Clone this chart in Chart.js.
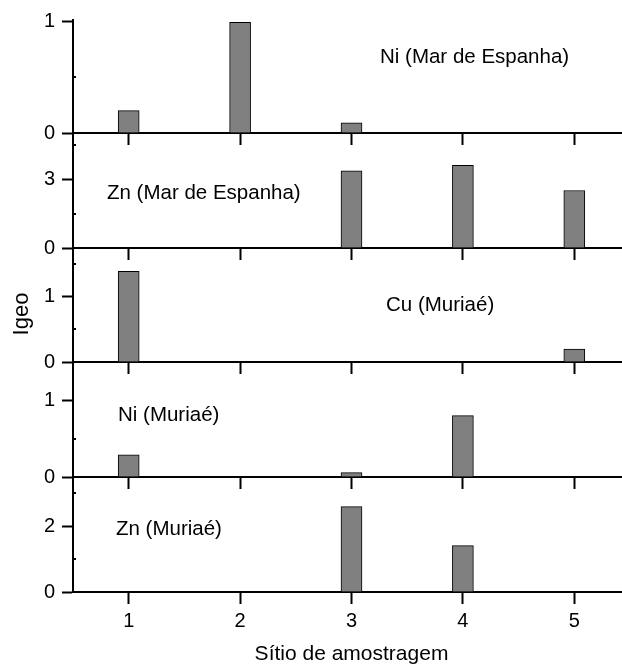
<!DOCTYPE html>
<html>
<head>
<meta charset="utf-8">
<script src="https://cdn.jsdelivr.net/npm/chart.js@4.4.1/dist/chart.umd.min.js"></script>
<style>
  body { margin: 0; background: #fff; overflow: hidden; }
  #fig { position: relative; width: 622px; height: 671px; overflow: hidden; }
  #fig canvas { position: absolute; left: 0; }
</style>
</head>
<body>
<div id="fig"></div>
<script>
// Dados (Igeo por sítio)
const sitios = ["1", "2", "3", "4", "5"];
const rotulos = ["Ni (Mar de Espanha)", "Zn (Mar de Espanha)", "Cu (Muriaé)", "Ni (Muriaé)", "Zn (Muriaé)"];
const niMar = [0.2, 0.99, 0.09, null, null];
const znMar = [null, null, 3.35, 3.59, 2.5];
const cuMuriae = [1.39, null, null, null, 0.2];
const niMuriae = [0.29, null, 0.058, 0.8, null];
const znMuriae = [null, null, 2.6, 1.41, null];
const yMax = [1.01, 5, 1.75, 1.5, 3.5];
const ticksMaiores = [[0, 1], [0, 3], [0, 1], [0, 1], [0, 2]];
const ticksMenores = [[0.5], [1.5, 4.5], [0.5, 1.5], [0.5], [1, 3]];

const series = [niMar, znMar, cuMuriae, niMuriae, znMuriae];

// layout dos painéis (px na página)
const topos = [20, 133, 248, 362, 477];
const zeros = [133, 248, 362, 477, 592];
const posRotulos = [[380, 57], [107, 193], [386, 305], [118, 415], [116, 529]];
const padTop = 24;
const fonte = '"Liberation Sans", Arial, sans-serif';

// ticks menores, rótulo do painel e título do eixo y
const extras = {
    id: "extras",
    afterDraw(chart) {
        const o = chart.options.plugins.extras;
        const ctx = chart.ctx;
        const area = chart.chartArea;
        const y = chart.scales.y;
        ctx.save();
        ctx.strokeStyle = "#000";
        ctx.lineWidth = 2;
        o.menores.forEach(v => {
            const py = Math.round(y.getPixelForValue(v));
            ctx.beginPath();
            ctx.moveTo(area.left, py);
            ctx.lineTo(area.left + 3, py);
            ctx.stroke();
        });
        ctx.fillStyle = "#000";
        ctx.font = "20.5px " + fonte;
        ctx.textBaseline = "middle";
        ctx.textAlign = "left";
        ctx.fillText(o.texto, o.x, o.y);
        if (o.tituloY) {
            ctx.translate(22, o.tituloY);
            ctx.rotate(-Math.PI / 2);
            ctx.textAlign = "center";
            ctx.font = "22px " + fonte;
            ctx.fillText("Igeo", 0, 0);
        }
        ctx.restore();
    }
};

const fig = document.getElementById("fig");

series.forEach((dados, i) => {
    const ultimo = i === series.length - 1;
    const xH = ultimo ? 79 : 24;
    const topoCanvas = topos[i] - padTop;
    const altura = padTop + (zeros[i] - topos[i]) + xH;

    const cv = document.createElement("canvas");
    cv.width = 630;
    cv.height = altura;
    cv.style.top = topoCanvas + "px";
    cv.style.width = "630px";
    cv.style.height = altura + "px";
    fig.appendChild(cv);

    new Chart(cv, {
        type: "bar",
        data: {
            labels: sitios,
            datasets: [{
                label: rotulos[i],
                data: dados,
                backgroundColor: "#808080",
                borderColor: "#000",
                borderWidth: 1,
                barThickness: 21
            }]
        },
        options: {
            responsive: false,
            animation: false,
            layout: { autoPadding: false, padding: { top: padTop, left: 0, right: 0, bottom: 0 } },
            plugins: {
                legend: { display: false },
                tooltip: { enabled: false },
                extras: {
                    menores: ticksMenores[i],
                    texto: rotulos[i],
                    x: posRotulos[i][0],
                    y: posRotulos[i][1] - topoCanvas,
                    tituloY: i === 2 ? 314 - topoCanvas : null
                }
            },
            scales: {
                x: {
                    type: "category",
                    offset: true,
                    grid: { offset: false, drawOnChartArea: false, tickLength: 12, tickWidth: 2, tickColor: "#000" },
                    border: { color: "#000", width: 2 },
                    ticks: { display: ultimo, color: "#000", font: { size: 20, family: fonte }, padding: 5 },
                    title: {
                        display: ultimo,
                        text: "Sítio de amostragem",
                        color: "#000",
                        font: { size: 21, family: fonte },
                        padding: { top: 0, bottom: 4 }
                    },
                    afterFit: s => { s.height = xH; }
                },
                y: {
                    min: 0,
                    max: yMax[i],
                    grid: { drawOnChartArea: false, tickLength: 11, tickWidth: 2, tickColor: "#000" },
                    border: { color: "#000", width: 2 },
                    ticks: { color: "#000", font: { size: 20, family: fonte }, padding: 7, callback: v => String(v) },
                    afterBuildTicks: s => { s.ticks = ticksMaiores[i].map(v => ({ value: v })); },
                    afterFit: s => { s.width = 73; }
                }
            }
        },
        plugins: [extras]
    });
});
</script>
</body>
</html>
